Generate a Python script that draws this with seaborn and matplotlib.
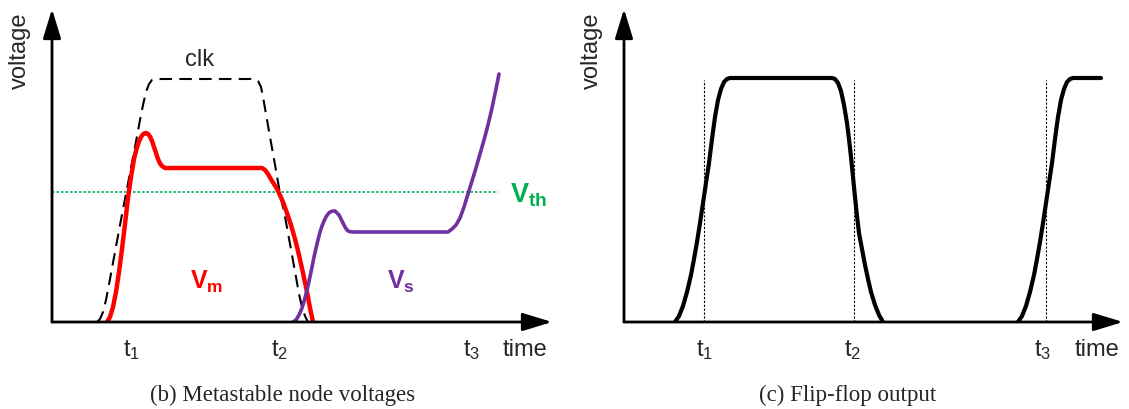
import matplotlib.pyplot as plt
import pandas as pd
import seaborn as sns

# ---- data (time / voltage, arbitrary units) ----
# (b) metastable node voltages
clk_t = [45, 48, 51, 54, 58, 63, 68, 73, 78, 83, 88, 91, 94, 97, 100, 103,
         203, 206, 209, 211, 214, 218, 222, 226, 229, 232, 236, 240, 244, 247, 250, 253, 256]
clk_v = [0, 3, 10, 22, 43, 70, 97, 123, 149, 175, 202, 217, 230, 238, 242, 243,
         243, 241, 235, 225, 208, 185, 163, 140, 123, 111, 89, 67, 45, 28, 15, 6, 0]

vm_t = [55, 58, 61, 64, 67, 70, 73, 76, 79, 82, 84, 86, 88, 90, 92, 94, 96, 98, 100, 102, 104,
        106, 108, 110, 113, 210, 213, 216, 220, 224, 227, 231, 235, 239, 243, 247, 251, 255, 258, 261]
vm_v = [0, 5, 15, 30, 50, 73, 98, 124, 145, 163, 171, 178, 183, 186.5, 188.5, 189, 188, 185.5, 181,
        175, 169, 163, 158.5, 156, 154, 154, 152, 148, 141, 135, 129, 120, 109, 97, 83, 67, 49, 30, 14, 0]

vs_t = [241, 244, 247, 250, 253, 256, 259, 262, 265, 268, 270, 272, 274, 276, 278, 281, 283, 285,
        287, 289, 291, 293, 295, 297, 301,
        396, 400, 404, 408, 412, 416, 420, 424, 428, 432, 436, 440, 444, 447]
vs_v = [0, 2, 7, 14, 24, 36, 50, 65, 78, 90, 96, 101, 105, 108, 110, 111, 111, 109,
        107, 103, 99, 95, 92, 90.5, 90,
        90, 93, 97, 104, 115, 128, 141, 154, 168, 182, 197, 214, 233, 248]

vth_t = [0, 446]
vth_v = [130, 130]

# (c) flip-flop output
q1_t = [51, 55, 59, 63, 67, 70, 73, 76, 79, 82, 85, 88, 91, 94, 97, 100, 103, 106,
        208, 211, 214, 217, 220, 223, 225, 227, 229, 231, 233, 235, 238, 241, 244, 247, 251, 255, 259]
q1_v = [0, 6, 16, 30, 47, 63, 80, 99, 119, 139, 159, 183, 205, 222, 233, 240, 243, 244,
        244, 243, 239, 231, 217, 199, 183, 165, 145, 125, 106, 89, 73, 57, 43, 30, 17, 7, 0]

q2_t = [394, 398, 402, 406, 410, 413, 416, 419, 422, 425, 428, 431, 434, 437, 440, 443, 446, 449, 477]
q2_v = [0, 6, 16, 30, 47, 63, 80, 99, 119, 139, 159, 183, 205, 222, 233, 240, 243, 244, 244]

t_marks = [80, 230, 422]
t_mark_top = 242
t_labels = ["t$_1$", "t$_2$", "t$_3$"]
t_label_pos_b = [80, 228, 420]
t_label_pos_c = [81, 229, 419]

sns.set_theme(style="white")
plt.rcParams["font.family"] = ["Liberation Sans", "DejaVu Sans"]
plt.rcParams["mathtext.fontset"] = "custom"
plt.rcParams["mathtext.rm"] = "Liberation Sans"
plt.rcParams["mathtext.bf"] = "Liberation Sans:bold"
plt.rcParams["mathtext.it"] = "Liberation Sans:italic"

fig = plt.figure(figsize=(11.29, 4.10), dpi=100)
ax_b = fig.add_axes([52 / 1129, 87 / 410, 500 / 1129, 313 / 410])
ax_c = fig.add_axes([624 / 1129, 87 / 410, 499 / 1129, 313 / 410])

arrow = dict(arrowstyle="-|>,head_length=1.8,head_width=0.55", lw=2.0, color="black",
             shrinkA=0, shrinkB=0, mutation_scale=10)
curve = dict(sort=False, estimator=None, legend=False, solid_capstyle="round", solid_joinstyle="round")

for ax in (ax_b, ax_c):
    ax.set_xlim(0, ax.get_position().width * 1129)
    ax.set_ylim(0, 313)
    ax.set_axis_off()
    ax.annotate("", xy=(1, 0), xytext=(0, 0), xycoords="axes fraction", arrowprops=arrow)
    ax.annotate("", xy=(0, 1), xytext=(0, 0), xycoords="axes fraction", arrowprops=arrow)
    ax.text(-32, 272, "voltage", rotation=90, ha="center", va="center", fontsize=17, clip_on=False)
    ax.text(473, -27, "time", ha="center", va="center", fontsize=17, clip_on=False)

# ---- panel (b) ----
sns.lineplot(x=vth_t, y=vth_v, ax=ax_b, color="#00B050", lw=1.2, linestyle=(0, (1.5, 1.2)),
             sort=False, estimator=None, legend=False)
sns.lineplot(x=clk_t, y=clk_v, ax=ax_b, color="black", lw=1.5, linestyle=(0, (6, 3.5)),
             sort=False, estimator=None, legend=False)
sns.lineplot(x=vm_t, y=vm_v, ax=ax_b, color="#FF0000", lw=3.2, **curve)
sns.lineplot(x=vs_t, y=vs_v, ax=ax_b, color="#7030A0", lw=2.6, **curve)

ax_b.text(148, 263, "clk", ha="center", va="center", fontsize=17)
ax_b.text(155, 41, r"$\mathbf{V}_{\mathbf{m}}$", color="#FF0000", ha="center", va="center", fontsize=18)
ax_b.text(349, 41, r"$\mathbf{V}_{\mathbf{s}}$", color="#7030A0", ha="center", va="center", fontsize=18)
ax_b.text(458, 128, r"$\mathbf{V}_{\mathbf{th}}$", color="#00B050", ha="left", va="center",
          fontsize=19.5, clip_on=False)
for x, lab in zip(t_label_pos_b, t_labels):
    ax_b.text(x, -27, lab, ha="center", va="center", fontsize=17, clip_on=False)

# ---- panel (c) ----
ax_c.vlines(t_marks, 0, t_mark_top, colors="black", lw=0.8, linestyles=[(0, (2, 1.5))])
sns.lineplot(x=q1_t, y=q1_v, ax=ax_c, color="black", lw=3.0, **curve)
sns.lineplot(x=q2_t, y=q2_v, ax=ax_c, color="black", lw=3.0, **curve)
for x, lab in zip(t_label_pos_c, t_labels):
    ax_c.text(x, -27, lab, ha="center", va="center", fontsize=17, clip_on=False)

fig.text(283 / 1129, 1 - 395 / 410, "(b) Metastable node voltages", ha="center", va="center",
         fontsize=16.5, family="Liberation Serif")
fig.text(848 / 1129, 1 - 395 / 410, "(c) Flip-flop output", ha="center", va="center",
         fontsize=16.5, family="Liberation Serif")

fig.savefig("out.png", dpi=100)
